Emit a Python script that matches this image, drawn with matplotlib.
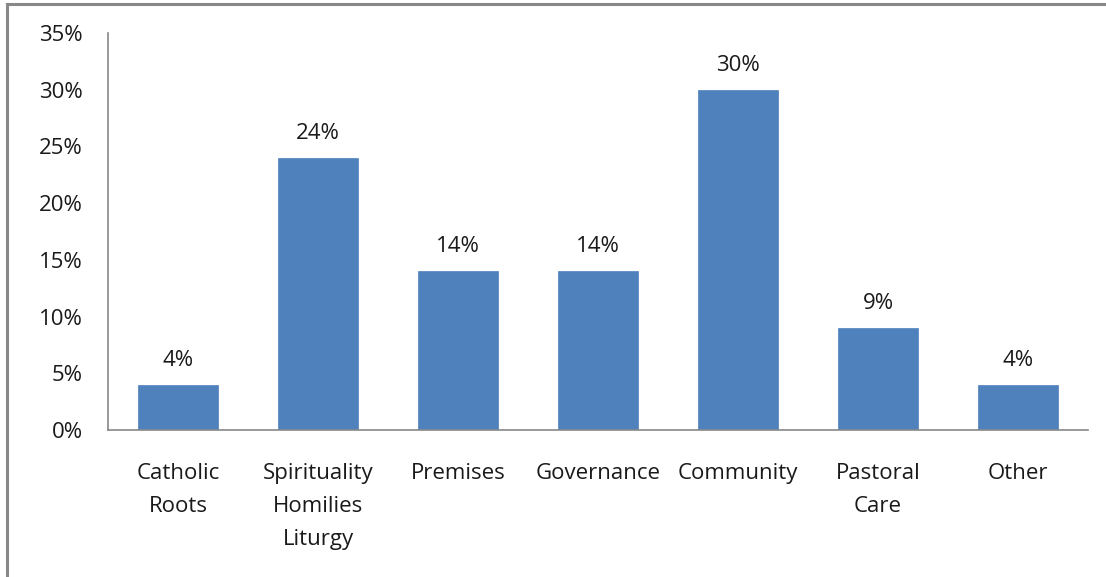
import matplotlib
matplotlib.use("Agg")
import matplotlib.pyplot as plt
from matplotlib.lines import Line2D

categories = ["Catholic\nRoots", "Spirituality\nHomilies\nLiturgy", "Premises", "Governance",
              "Community", "Pastoral\nCare", "Other"]
values = [4, 24, 14, 14, 30, 9, 4]
yticks = [0, 5, 10, 15, 20, 25, 30, 35]

plt.rcParams['font.family'] = ['Open Sans', 'DejaVu Sans']
FS = 16

fig = plt.figure(figsize=(11.06, 5.77), dpi=100)
ax = fig.add_axes([108/1106, 1-430/577, 980/1106, 397/577])

x = list(range(len(categories)))
bars = ax.bar(x, values, width=0.57, color="#4F81BD", edgecolor="#4F81BD", linewidth=0.5, zorder=2)

for xi, v in zip(x, values):
    ax.annotate(f"{v}%", (xi, v), xytext=(0, 10), textcoords="offset points",
                ha="center", va="bottom", fontsize=FS, color="#1a1a1a")

ax.set_xlim(-0.5, len(categories)-0.5)
ax.set_ylim(0, 35)
ax.set_yticks(yticks)
ax.set_yticklabels([f"{t}%" for t in yticks], fontsize=FS, color="#1a1a1a")
ax.set_xticks(x)
ax.set_xticklabels(categories, fontsize=FS, color="#1a1a1a", linespacing=1.75, va="top")
ax.tick_params(axis="both", length=0)
ax.tick_params(axis="y", pad=18)
ax.tick_params(axis="x", pad=24)

for s in ["top", "right"]:
    ax.spines[s].set_visible(False)
for s in ["left", "bottom"]:
    ax.spines[s].set_color("#888888")
    ax.spines[s].set_linewidth(1.2)

# figure border (top and left)
fig.add_artist(Line2D([7/1106, 1], [1-4/577, 1-4/577], transform=fig.transFigure, color="#888888", linewidth=2.2))
fig.add_artist(Line2D([7/1106, 7/1106], [0, 1-4/577], transform=fig.transFigure, color="#888888", linewidth=2.2))

fig.savefig("out.png", dpi=100)
